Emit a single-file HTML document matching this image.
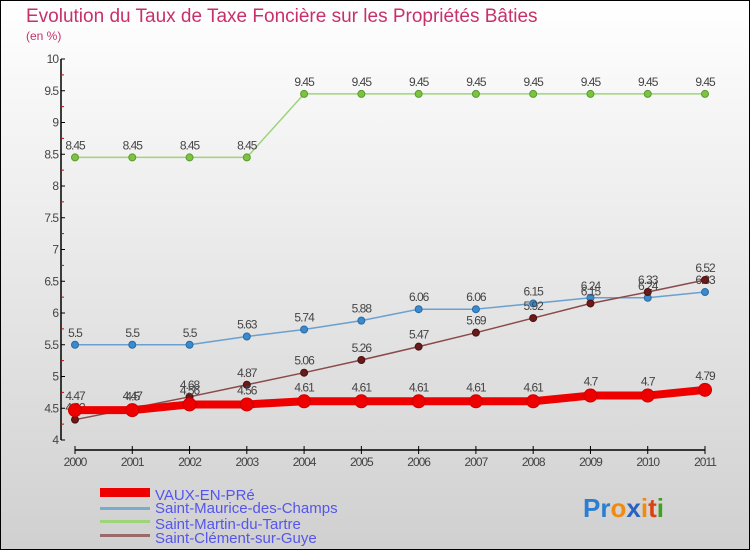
<!DOCTYPE html>
<html><head><meta charset="utf-8"><style>
body{margin:0}
svg text{font-family:"Liberation Sans",sans-serif}
</style></head><body>
<svg width="750" height="550" xmlns="http://www.w3.org/2000/svg">
<defs><linearGradient id="bg" x1="0" y1="0" x2="0" y2="1"><stop offset="0" stop-color="#ffffff"/><stop offset="1" stop-color="#d0d0d0"/></linearGradient></defs>
<rect x="0.5" y="0.5" width="749" height="549" fill="url(#bg)" stroke="#000"/>
<text x="26" y="22" font-size="19" fill="#c8306a">Evolution du Taux de Taxe Foncière sur les Propriétés Bâties</text>
<text x="26" y="40" font-size="12" fill="#c8306a">(en %)</text>
<g id="axes"></g>
<g id="series"></g>
<g>
<rect x="100" y="488" width="50" height="9" fill="#ee0000"/>
<text x="155" y="500" font-size="15" fill="#5555ee">VAUX-EN-PRé</text>
<rect x="100" y="507" width="50" height="3" fill="#7aabcf"/>
<text x="155" y="513" font-size="15" fill="#5555ee">Saint-Maurice-des-Champs</text>
<rect x="100" y="520" width="50" height="3" fill="#9ed47a"/>
<text x="155" y="529" font-size="15" fill="#5555ee">Saint-Martin-du-Tartre</text>
<rect x="100" y="534" width="50" height="3" fill="#9a6a6a"/>
<text x="155" y="543" font-size="15" fill="#5555ee">Saint-Clément-sur-Guye</text>
</g>
<g font-size="26" font-weight="bold">
<text x="583" y="517"><tspan fill="#2a7fd0">Pr</tspan><tspan fill="#f08a10">o</tspan><tspan fill="#2a60c0">x</tspan><tspan fill="#f08a10">i</tspan><tspan fill="#e04010">t</tspan><tspan fill="#40a020">i</tspan></text>
</g>
</svg>
<script>
const years=[2000,2001,2002,2003,2004,2005,2006,2007,2008,2009,2010,2011];
const vaux=[4.47,4.47,4.56,4.56,4.61,4.61,4.61,4.61,4.61,4.7,4.7,4.79];
const smc=[5.5,5.5,5.5,5.63,5.74,5.88,6.06,6.06,6.15,6.24,6.24,6.33];
const smt=[8.45,8.45,8.45,8.45,9.45,9.45,9.45,9.45,9.45,9.45,9.45,9.45];
const scg=[4.32,4.5,4.68,4.87,5.06,5.26,5.47,5.69,5.92,6.15,6.33,6.52];
const yTicks=[4,4.5,5,5.5,6,6.5,7,7.5,8,8.5,9,9.5,10];
const NS="http://www.w3.org/2000/svg";
function xs(i){return 75+i*(705-75)/(years.length-1);}
function ys(v){return 440-(v-4)*(440-59)/6;}
function mk(tag,attrs,parent){const e=document.createElementNS(NS,tag);for(const k in attrs)e.setAttribute(k,attrs[k]);parent.appendChild(e);return e;}
const ax=document.getElementById('axes');
let yl=mk('line',{x1:61,y1:59,x2:61,y2:440,stroke:'#000','stroke-width':1.5},ax);


yTicks.forEach(t=>{const y=ys(t);
 mk('line',{x1:61,y1:y,x2:65,y2:y,stroke:'#000'},ax);
 if(t<10){const m=mk('line',{x1:61,y1:ys(t+0.25),x2:64,y2:ys(t+0.25),stroke:'#e00000'},ax);}
 const tx=mk('text',{x:58,y:y+4,'text-anchor':'end','font-size':12,fill:'#444','letter-spacing':'-1'},ax);
 tx.textContent=String(t);
 
 
});
let xl=mk('line',{x1:75,y1:450,x2:705,y2:450,stroke:'#000','stroke-width':1.5},ax);


years.forEach((yr,i)=>{const x=xs(i);
 mk('line',{x1:x,y1:446,x2:x,y2:454,stroke:'#000'},ax);
 const tx=mk('text',{x:x,y:466,'text-anchor':'middle','font-size':12,fill:'#444','letter-spacing':'-1'},ax);
 tx.textContent=String(yr);
 
 
});
const sg=document.getElementById('series');
function series(name,data,color,w,r,dot,stroke){
 const g=mk('g',{},sg);
 
 
 const pl=mk('polyline',{points:data.map((v,i)=>xs(i)+','+ys(v)).join(' '),fill:'none',stroke:color,'stroke-width':w,'stroke-linejoin':'round'},g);
 
 
 data.forEach((v,i)=>{
  const c=mk('circle',{cx:xs(i),cy:ys(v),r:r,fill:dot,stroke:stroke,'stroke-width':1},g);
  
  
  const t=mk('text',{x:xs(i),y:ys(v)-8-(r>5?2:0),'text-anchor':'middle','font-size':12,fill:'#444','letter-spacing':'-1'},g);
  t.textContent=String(v);
  
  
 });
}
series('smt',smt,'#9ed47a',1.5,3.5,'#7cc440','#5a9a30');
series('smc',smc,'#6aa0d0',1.5,3.5,'#3a8ad0','#2a6aa0');
series('scg',scg,'#8a4a4a',1.5,3.5,'#6a1a1a','#4a1010');
series('vaux',vaux,'#ee0000',8,6.5,'#ee0000','#cc0000');
</script>
</body></html>
